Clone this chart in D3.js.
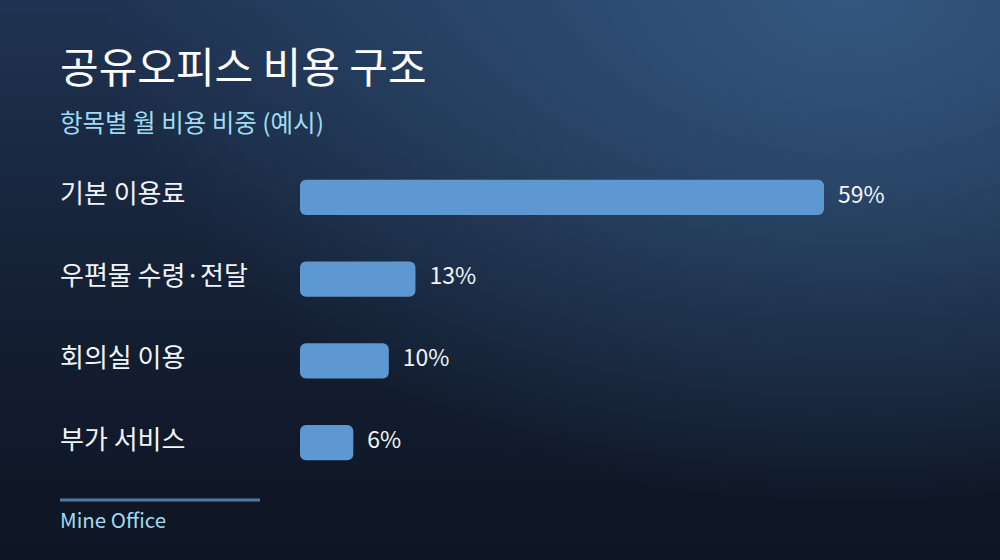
<!DOCTYPE html>
<html>
<head>
<meta charset="utf-8">
<script src="https://cdn.jsdelivr.net/npm/d3@7"></script>
<style>
  html, body { margin: 0; padding: 0; background: #0f1726; }
  svg { display: block; }
  text { font-family: "Noto Sans CJK KR", "Noto Sans", sans-serif; }
</style>
</head>
<body>
<div class="container"></div>
<script>
// chart data
const categories = ['기본 이용료', '우편물 수령·전달', '회의실 이용', '부가 서비스'];
const shares = [59, 13, 10, 6];

const width = 1000;
const height = 560;

const svg = d3.select('.container').append('svg')
  .attr('width', width)
  .attr('height', height);

const defs = svg.append('defs');

// background: dark vertical gradient + glow from top right
const bg = defs.append('linearGradient')
  .attr('id', 'bg')
  .attr('x1', '0').attr('y1', '0')
  .attr('x2', '0').attr('y2', '1');
bg.append('stop').attr('offset', '0%').attr('stop-color', '#1f3352');
bg.append('stop').attr('offset', '55%').attr('stop-color', '#141f33');
bg.append('stop').attr('offset', '100%').attr('stop-color', '#0e1523');

const glow = defs.append('radialGradient')
  .attr('id', 'glow')
  .attr('cx', '0.85').attr('cy', '0')
  .attr('r', '0.75')
  .attr('gradientTransform', 'translate(0.85 0) scale(1 1.2) translate(-0.85 0)');
glow.append('stop').attr('offset', '0%').attr('stop-color', '#33577f').attr('stop-opacity', 1);
glow.append('stop').attr('offset', '100%').attr('stop-color', '#33577f').attr('stop-opacity', 0);

svg.append('rect').attr('width', width).attr('height', height).attr('fill', 'url(#bg)');
svg.append('rect').attr('width', width).attr('height', height).attr('fill', 'url(#glow)');

// title
svg.append('text')
  .attr('x', 60)
  .attr('y', 83)
  .attr('fill', '#ffffff')
  .attr('font-size', 42)
  .attr('font-weight', 400)
  .text('공유오피스 비용 구조');

svg.append('text')
  .attr('x', 60)
  .attr('y', 132)
  .attr('fill', '#9fdcf2')
  .attr('font-size', 24.5)
  .text('항목별 월 비용 비중 (예시)');

// scales
const x = d3.scaleLinear()
  .domain([0, d3.max(shares)])
  .range([300, 824]);

const y = d3.scaleBand()
  .domain(categories)
  .range([156, 484])
  .paddingInner(0.57)
  .paddingOuter(0.29);

const rows = svg.append('g')
  .selectAll('g')
  .data(categories)
  .join('g');

rows.append('text')
  .attr('x', 60)
  .attr('y', d => y(d) + y.bandwidth() / 2 - 1)
  .attr('dominant-baseline', 'middle')
  .attr('fill', '#f2f5f9')
  .attr('font-size', 26)
  .text(d => d);

rows.append('rect')
  .attr('x', x(0))
  .attr('y', d => y(d))
  .attr('width', (d, i) => x(shares[i]) - x(0))
  .attr('height', y.bandwidth())
  .attr('rx', 6)
  .attr('fill', '#5e98d3');

rows.append('text')
  .attr('x', (d, i) => x(shares[i]) + 14)
  .attr('y', d => y(d) + y.bandwidth() / 2 - 1)
  .attr('dominant-baseline', 'middle')
  .attr('fill', '#f2f5f9')
  .attr('font-size', 23)
  .text((d, i) => shares[i] + '%');

// footer
svg.append('line')
  .attr('x1', 60).attr('x2', 260)
  .attr('y1', 500).attr('y2', 500)
  .attr('stroke', '#4d79a6')
  .attr('stroke-width', 3);

svg.append('text')
  .attr('x', 60)
  .attr('y', 528)
  .attr('fill', '#9fdcf2')
  .attr('font-size', 20.5)
  .text('Mine Office');
</script>
</body>
</html>
